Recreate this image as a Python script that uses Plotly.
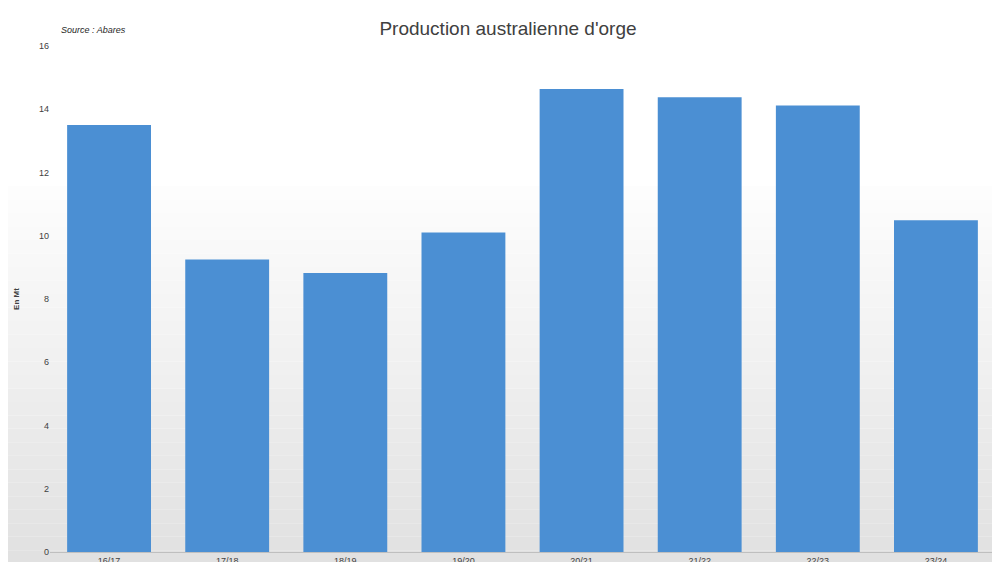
import plotly.graph_objects as go

campagnes = ["16/17", "17/18", "18/19", "19/20", "20/21", "21/22", "22/23", "23/24"]
production = [13.5, 9.25, 8.82, 10.1, 14.64, 14.38, 14.12, 10.49]

fig = go.Figure()
fig.add_trace(go.Bar(x=campagnes, y=production, marker_color="#4b8fd3",
                     marker_line_width=0, width=0.71))

fig.update_layout(
    width=1000, height=562,
    title=dict(text="Production australienne d'orge", x=0.5, y=0.975,
               font=dict(family="Liberation Sans", size=19, color="#404040")),
    paper_bgcolor="white", plot_bgcolor="rgba(0,0,0,0)",
    margin=dict(l=42, r=13, t=38, b=18, autoexpand=False),
    showlegend=False,
    font=dict(family="Liberation Sans", size=9, color="#404040"),
    xaxis=dict(showline=True, linecolor="#bfbfbf", ticks="", tickfont=dict(size=9)),
    yaxis=dict(range=[0, 16], dtick=2, showgrid=False, zeroline=False, ticks="",
               title=dict(text="<b>En Mt</b>", font=dict(size=8), standoff=18),
               tickfont=dict(size=9)),
    annotations=[dict(text="<i>Source : Abares</i>", xref="paper", yref="paper",
                      x=0.01, y=1.045, xanchor="left", showarrow=False,
                      font=dict(size=9, color="#262626"))],
)

# soft grey gradient in the lower part of the background
n = 30
for i in range(n):
    f = i / n
    g = int(255 - 32 * f)
    fig.add_shape(type="rect", xref="paper", yref="paper", x0=-0.05, x1=1.02,
                  y0=0.75 - 0.8 * (i + 1) / n, y1=0.75 - 0.8 * i / n,
                  fillcolor=f"rgb({g},{g},{g})", line_width=0, layer="below")

fig.write_html("out.html")
